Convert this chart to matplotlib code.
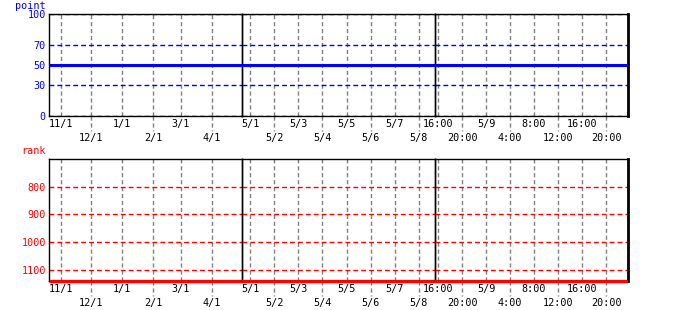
import matplotlib
matplotlib.use("Agg")
import matplotlib.pyplot as plt
import matplotlib.dates as mdates
import matplotlib.transforms as mtransforms
import pandas as pd

# ---------------- data ----------------
point_times = ["2022-10-20 00:00", "2023-05-09 23:40"]
point_values = [50, 50]
rank_times = ["2022-10-20 00:00", "2023-05-09 23:40"]
rank_values = [1140, 1140]

point_yticks = [0, 30, 50, 70, 100]
rank_yticks = [800, 900, 1000, 1100]

section_starts = ["2022-10-20 00:00", "2023-04-30 16:00", "2023-05-08 15:28"]
section_ends = ["2023-05-01 00:00", "2023-05-08 16:00", "2023-05-09 23:40"]

row1_ticks = [
    ["2022-11-01", "2023-01-01", "2023-03-01"],
    ["2023-05-01", "2023-05-03", "2023-05-05", "2023-05-07"],
    ["2023-05-08 16:00", "2023-05-09 00:00", "2023-05-09 08:00", "2023-05-09 16:00"],
]
row2_ticks = [
    ["2022-12-01", "2023-02-01", "2023-04-01"],
    ["2023-05-02", "2023-05-04", "2023-05-06", "2023-05-08"],
    ["2023-05-08 20:00", "2023-05-09 04:00", "2023-05-09 12:00", "2023-05-09 20:00"],
]

# ---------------- style ----------------
FW, FH = 676, 310
BLUE = "#0000ff"
RED = "#ff0000"
GRAY = "#808080"
FONT = "DejaVu Sans Mono"
FS = 7

plt.rcParams["font.family"] = FONT
plt.rcParams["font.size"] = FS


def d2n(s):
    return mdates.date2num(pd.Timestamp(s).to_pydatetime())


def fmt(x, hourly=False):
    d = mdates.num2date(x)
    if hourly and not (d.hour == 0 and d.minute == 0):
        return f"{d.hour}:{d.minute:02d}"
    return f"{d.month}/{d.day}"


fig = plt.figure(figsize=(FW / 100, FH / 100), dpi=100)

left_px, sec_w_px = 49, 193
rows = [
    dict(top=14, bottom=116, times=point_times, vals=point_values, ylim=(0, 100),
         yticks=point_yticks, color=BLUE, lw=2.2, label="point", label_y=6),
    dict(top=159, bottom=281, times=rank_times, vals=rank_values, ylim=(1140, 700),
         yticks=rank_yticks, color=RED, lw=2.4, label="rank", label_y=150.5),
]

for row in rows:
    h_px = row["bottom"] - row["top"]
    for s in range(3):
        ax = fig.add_axes([(left_px + s * sec_w_px) / FW, 1 - row["bottom"] / FH,
                           sec_w_px / FW, h_px / FH])
        x = [d2n(t) for t in row["times"]]
        line, = ax.plot(x, row["vals"], color=row["color"], lw=row["lw"],
                        solid_capstyle="butt", zorder=5)
        clip = mtransforms.TransformedBbox(
            mtransforms.Bbox([[0, -0.1], [1, 1.1]]), ax.transAxes)
        line.set_clip_box(clip)
        ax.set_xlim(d2n(section_starts[s]), d2n(section_ends[s]))
        ax.set_ylim(*row["ylim"])

        # y grid
        ax.set_yticks(row["yticks"])
        for yv in row["yticks"]:
            ax.axhline(yv, color=row["color"], lw=1.0, dashes=(3.5, 2.2), zorder=2)
        ax.tick_params(axis="y", length=0, pad=2.2, colors=row["color"], labelsize=FS + 0.3)
        if s > 0:
            ax.tick_params(axis="y", labelleft=False)

        # x ticks (two rows)
        hourly = (s == 2)
        maj = [d2n(t) for t in row1_ticks[s]]
        mnr = [d2n(t) for t in row2_ticks[s]]
        ax.set_xticks(maj)
        ax.set_xticks(mnr, minor=True)
        ax.set_xticklabels([fmt(v, hourly=hourly) for v in maj])
        ax.set_xticklabels([fmt(v, hourly=hourly) for v in mnr], minor=True)
        ax.tick_params(axis="x", which="major", length=0, pad=2.5, labelsize=FS + 0.3)
        ax.tick_params(axis="x", which="minor", length=0, pad=12, labelsize=FS + 0.3)
        for v in maj + mnr:
            ax.axvline(v, color=GRAY, lw=1.0, dashes=(3, 2), zorder=1)
        trans = mtransforms.blended_transform_factory(ax.transData, ax.transAxes)
        ext = 14.5 / h_px
        for v in mnr:
            ax.plot([v, v], [0, -ext], transform=trans, color=GRAY, lw=1.0,
                    dashes=(3, 2), clip_on=False)

        for sp in ax.spines.values():
            sp.set_color("black")
            sp.set_linewidth(1.0)
        if s == 2:
            ax.spines["right"].set_linewidth(2.0)
        ax.set_facecolor("none")

    fig.text(46 / FW, 1 - row["label_y"] / FH, row["label"], ha="right", va="center",
             color=row["color"], fontsize=FS + 0.3)

fig.savefig("out.png", dpi=100)
